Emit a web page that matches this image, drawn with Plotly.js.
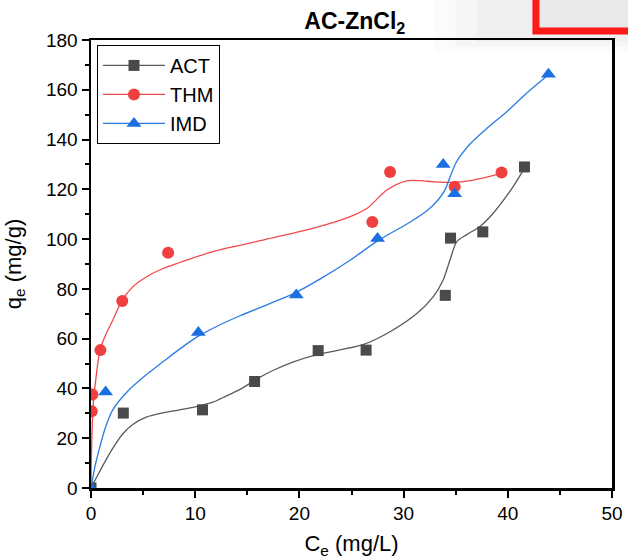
<!DOCTYPE html>
<html>
<head>
<meta charset="utf-8">
<script src="https://cdn.plot.ly/plotly-3.0.1.min.js"></script>
<style>html,body{margin:0;padding:0;background:#fff;}#chart{width:628px;height:559px;}</style>
</head>
<body>
<div id="chart"></div>
<script>
// Measured data points
const actX = [0, 3.1, 10.7, 15.7, 21.8, 26.4, 34.0, 34.5, 37.6, 41.6];
const actY = [0, 30.1, 31.4, 42.8, 55.2, 55.4, 77.4, 100.4, 102.9, 129.0];
const thmX = [0.07, 0.13, 0.9, 3.0, 7.4, 27.0, 28.7, 34.9, 39.4];
const thmY = [30.8, 37.6, 55.4, 75.1, 94.5, 106.9, 127.0, 121.0, 126.8];
const imdX = [0, 1.4, 10.3, 19.7, 27.5, 33.8, 34.9, 43.9];
const imdY = [0, 38.6, 62.5, 77.5, 100.2, 130.0, 118.2, 166.2];

// Fitted curves
const actFitX = [0, 0.5, 1.2, 2.1, 3.0, 4.0, 5.3, 7.0, 8.5, 10.0, 11.7, 13.0, 14.3, 16.0, 17.5, 19.5, 21.7, 23.9, 26.1, 28.7, 31.3, 32.85, 33.8, 34.45, 35.1, 36.05, 37.3, 38.6, 40.5, 41.5];
const actFitY = [0, 4.0, 9.5, 16.0, 21.5, 25.5, 28.5, 30.3, 31.4, 32.6, 34.5, 37.0, 39.6, 44.0, 47.3, 50.8, 53.6, 55.5, 57.6, 62.8, 70.2, 76.9, 83.6, 91.6, 99.0, 101.8, 105.0, 110.4, 121.0, 127.8];
const thmFitX = [0, 0.05, 0.2, 0.5, 0.86, 1.4, 2.1, 3.0, 4.0, 5.34, 6.8, 8.54, 11.7, 16.5, 21.0, 23.2, 25.0, 26.5, 28.4, 30.3, 31.6, 33.0, 34.8, 36.7, 39.4];
const thmFitY = [0, 15, 32.7, 45.0, 55.4, 61.5, 67.5, 75.5, 80.8, 84.9, 88.0, 90.6, 95.0, 99.6, 104.0, 106.6, 109.2, 112.4, 119.7, 123.4, 123.5, 123.0, 122.8, 123.7, 126.4];
const imdFitX = [0, 0.4, 0.86, 1.4, 2.1, 3.5, 5.3, 7.0, 8.5, 10.3, 12.0, 14.3, 17.0, 19.6, 22.0, 24.9, 27.4, 30.6, 32.3, 33.3, 34.0, 34.45, 35.1, 36.4, 38.0, 39.9, 41.8, 43.7];
const imdFitY = [0, 9.0, 16.6, 24.5, 31.5, 38.8, 45.5, 51.0, 55.8, 61.0, 64.8, 69.2, 73.8, 78.4, 84.0, 91.6, 99.0, 106.8, 111.6, 115.7, 120.0, 125.0, 131.2, 138.3, 144.5, 151.2, 158.6, 165.3];

const seriesNames = ['ACT', 'THM', 'IMD'];
const lineColors = ['#5a5a5a', '#f04848', '#2a7be4'];
const markerColors = ['#4a4a4a', '#ef3f3f', '#1b6fe0'];
const symbols = ['square', 'circle', 'triangle-up'];
const sizes = [11, 12, 13];

const fits = [[actFitX, actFitY], [thmFitX, thmFitY], [imdFitX, imdFitY]];
const pts = [[actX, actY], [thmX, thmY], [imdX, imdY]];

const traces = [];
for (let i = 0; i < 3; i++) {
  traces.push({x: fits[i][0], y: fits[i][1], mode: 'lines', type: 'scatter',
    line: {color: lineColors[i], width: 1.3, shape: 'spline', smoothing: 0.8}, showlegend: false, hoverinfo: 'skip'});
}
for (let i = 0; i < 3; i++) {
  traces.push({x: pts[i][0], y: pts[i][1], mode: 'markers', type: 'scatter',
    marker: {color: markerColors[i], symbol: symbols[i], size: sizes[i]}, showlegend: false});
}
for (let i = 0; i < 3; i++) {
  traces.push({x: [null], y: [null], mode: 'lines+markers', type: 'scatter', name: seriesNames[i],
    line: {color: lineColors[i], width: 1.3},
    marker: {color: markerColors[i], symbol: symbols[i], size: sizes[i]}});
}

const FONT = 'Liberation Sans, Arial, sans-serif';
const axisCommon = {
  showline: true, linecolor: '#000', linewidth: 2.5, mirror: true,
  ticks: 'outside', ticklen: 7, tickwidth: 2, tickcolor: '#000',
  showgrid: false, zeroline: false,
  tickfont: {family: FONT, size: 19, color: '#000'}
};

const layout = {
  width: 628, height: 559,
  margin: {l: 91, r: 16, t: 40, b: 71},
  paper_bgcolor: '#fff', plot_bgcolor: '#fff',
  title: {text: '<b>AC-ZnCl<sub>2</sub></b>', x: 0.565, xref: 'container', y: 0.962, yref: 'container', yanchor: 'middle',
    font: {family: FONT, size: 23, color: '#000'}},
  xaxis: Object.assign({}, axisCommon, {
    range: [0, 50], dtick: 10,
    minor: {dtick: 5, ticks: 'outside', ticklen: 4, tickwidth: 2, tickcolor: '#000'},
    title: {text: 'C<sub>e</sub> (mg/L)', standoff: 14, font: {family: FONT, size: 22, color: '#000'}}
  }),
  yaxis: Object.assign({}, axisCommon, {
    range: [0, 180], dtick: 20,
    minor: {dtick: 10, ticks: 'outside', ticklen: 4, tickwidth: 2, tickcolor: '#000'},
    title: {text: 'q<sub>e</sub> (mg/g)', standoff: 19, font: {family: FONT, size: 22, color: '#000'}}
  }),
  legend: {x: 0.0115, y: 0.989, xanchor: 'left', yanchor: 'top', bgcolor: '#fff',
    bordercolor: '#000', borderwidth: 1, itemwidth: 62, tracegroupgap: 0,
    font: {family: FONT, size: 20, color: '#000'}},
  shapes: [
    {type: 'rect', xref: 'paper', yref: 'paper', x0: 0.66, x1: 1.06, y0: 0.975, y1: 1.12,
      fillcolor: 'rgba(0,0,0,0.015)', line: {width: 0}, layer: 'below'},
    {type: 'rect', xref: 'paper', yref: 'paper', x0: 0.70, x1: 1.06, y0: 0.985, y1: 1.12,
      fillcolor: 'rgba(0,0,0,0.02)', line: {width: 0}, layer: 'below'},
    {type: 'rect', xref: 'paper', yref: 'paper', x0: 0.74, x1: 1.06, y0: 0.995, y1: 1.12,
      fillcolor: 'rgba(0,0,0,0.025)', line: {width: 0}, layer: 'below'},
    {type: 'rect', xref: 'paper', yref: 'paper', x0: 0.854, x1: 1.06, y0: 1.020, y1: 1.12,
      fillcolor: '#e9e9e9', line: {color: '#ff1a1a', width: 7}, layer: 'above'}
  ]
};

Plotly.newPlot('chart', traces, layout, {displayModeBar: false, staticPlot: true});
</script>
</body>
</html>
